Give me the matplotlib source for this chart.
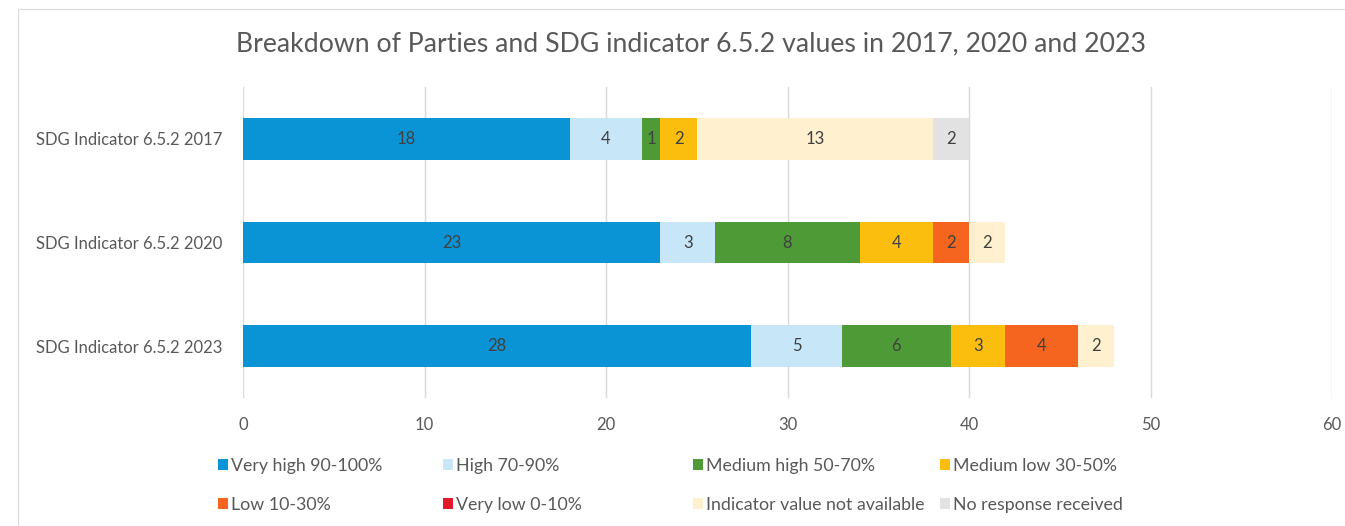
import matplotlib.pyplot as plt
from matplotlib.patches import Patch, Rectangle
import numpy as np

plt.rcParams['font.family'] = ['Lato', 'DejaVu Sans']

categories = ['SDG Indicator 6.5.2 2017', 'SDG Indicator 6.5.2 2020', 'SDG Indicator 6.5.2 2023']

very_high = [18, 23, 28]
high = [4, 3, 5]
medium_high = [1, 8, 6]
medium_low = [2, 4, 3]
low = [0, 2, 4]
very_low = [0, 0, 0]
not_available = [13, 2, 2]
no_response = [2, 0, 0]

series_names = ['Very high 90-100%', 'High 70-90%', 'Medium high 50-70%', 'Medium low 30-50%',
                'Low 10-30%', 'Very low 0-10%', 'Indicator value not available', 'No response received']
series_values = [very_high, high, medium_high, medium_low, low, very_low, not_available, no_response]
colors = ['#0A94D6', '#C7E6F8', '#4E9A36', '#FBBE0E', '#F6651F', '#E3182D', '#FFF0CF', '#E2E2E2']

TEXT = '#595959'

fig = plt.figure(figsize=(13.45, 5.26), dpi=100)
ax = fig.add_axes([243 / 1345, 1 - 398 / 526, (1332 - 243) / 1345, (398 - 87) / 526])

# light chart border
fig.patches.append(Rectangle((18 / 1345, -0.05), 1.1, 1 - 9 / 526 + 0.05, transform=fig.transFigure,
                             fill=False, edgecolor='#DADADA', linewidth=0.8, zorder=0))

y = np.arange(len(categories))
left = np.zeros(len(categories))
for name, vals, col in zip(series_names, series_values, colors):
    vals = np.array(vals, dtype=float)
    bars = ax.barh(y, vals, left=left, height=0.405, color=col, label=name, zorder=3)
    for b, v in zip(bars, vals):
        if v > 0:
            ax.text(b.get_x() + b.get_width() / 2, b.get_y() + b.get_height() / 2, f'{int(v)}',
                    ha='center', va='center', fontsize=12, color='#404040', zorder=4)
    left += vals

ax.set_xlim(0, 60)
ax.set_ylim(2.5, -0.5)
ax.set_xticks(range(0, 61, 10))
ax.set_yticks(y)
ax.set_yticklabels(categories)
ax.tick_params(axis='both', length=0, colors=TEXT, labelsize=12)
ax.tick_params(axis='x', pad=14)
ax.tick_params(axis='y', pad=15)
ax.grid(True, axis='x', color='#D9D9D9', linewidth=1, zorder=0)
for s in ax.spines.values():
    s.set_visible(False)

fig.text(691 / 1345, 1 - 44 / 526, 'Breakdown of Parties and SDG indicator 6.5.2 values in 2017, 2020 and 2023',
         ha='center', va='center', fontsize=19.2, color=TEXT)

# legend, four columns of two rows
col_x = [218, 443, 693, 940]
for i, cx in enumerate(col_x):
    idx = [i, i + 4]
    handles = [Patch(facecolor=colors[k], edgecolor='none') for k in idx]
    labels = [series_names[k] for k in idx]
    fig.legend(handles, labels, loc='upper left', bbox_to_anchor=(cx / 1345, 1 - 458 / 526),
               frameon=False, fontsize=12.8, labelcolor=TEXT, handlelength=0.55, handleheight=0.55,
               handletextpad=0.2, borderpad=0, borderaxespad=0, labelspacing=1.3)

fig.savefig('out.png', dpi=100)
